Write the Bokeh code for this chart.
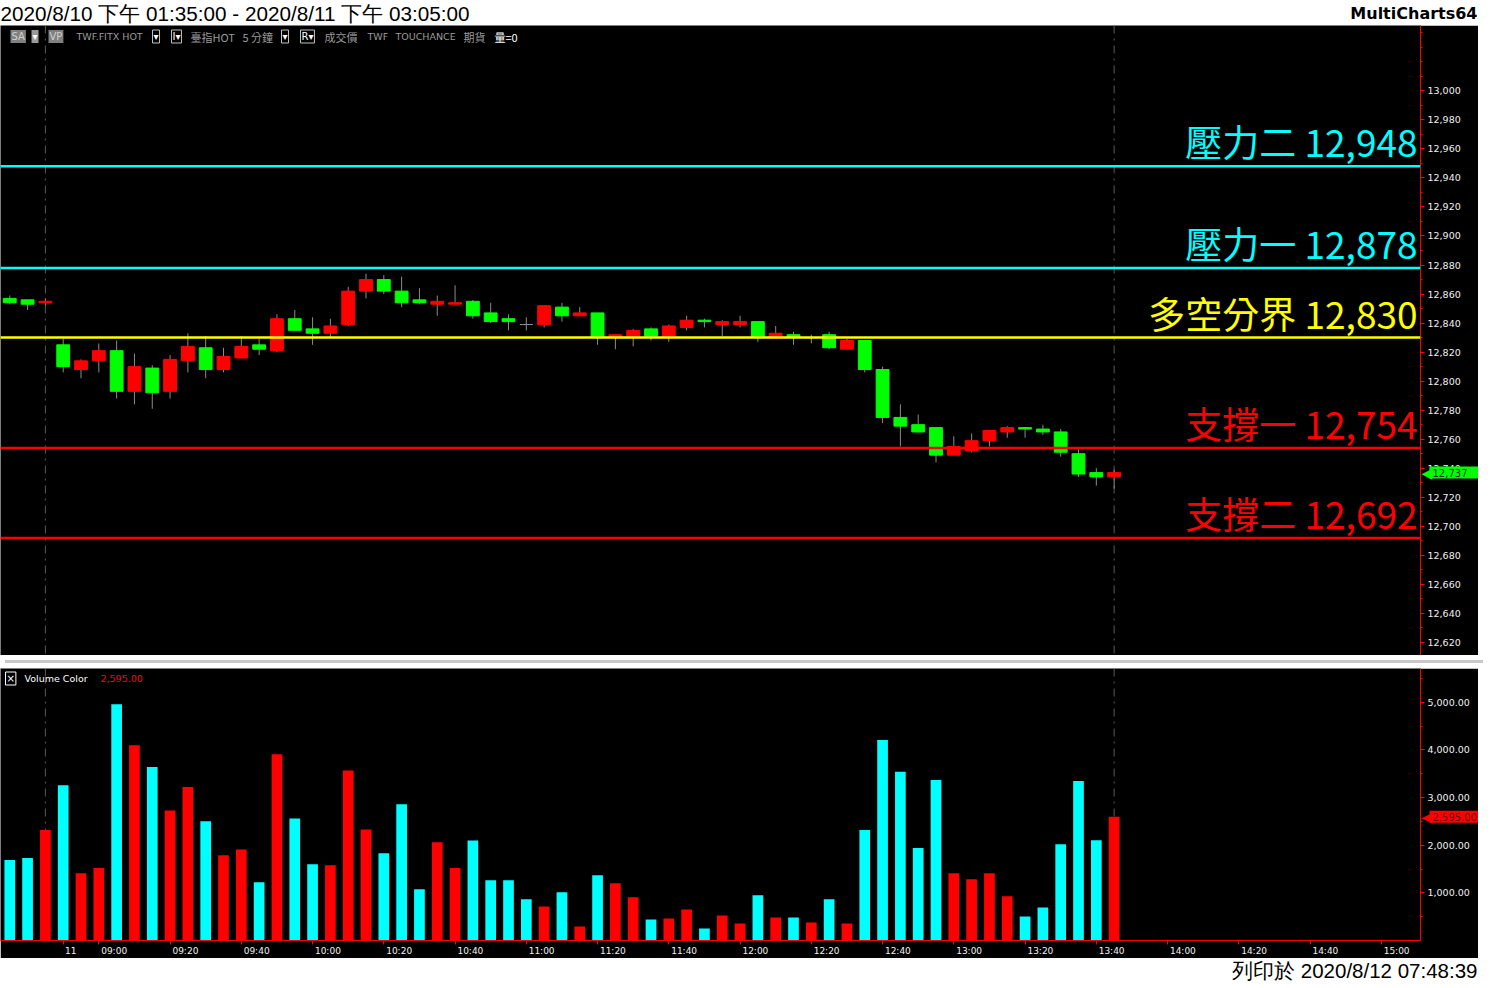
from bokeh.plotting import figure
from bokeh.layouts import column
from bokeh.models import (Range1d, LinearAxis, FixedTicker, NumeralTickFormatter,
                          CustomJSTickFormatter, Label, Span, ColumnDataSource, Div)
from bokeh.core.properties import value
from bokeh.embed import file_html
from bokeh.resources import INLINE

# ---------------- data ----------------
bar_times = ["04:50", "04:55", "05:00",
             "08:50", "08:55", "09:00", "09:05", "09:10", "09:15", "09:20", "09:25",
             "09:30", "09:35", "09:40", "09:45", "09:50", "09:55", "10:00", "10:05",
             "10:10", "10:15", "10:20", "10:25", "10:30", "10:35", "10:40", "10:45",
             "10:50", "10:55", "11:00", "11:05", "11:10", "11:15", "11:20", "11:25",
             "11:30", "11:35", "11:40", "11:45", "11:50", "11:55", "12:00", "12:05",
             "12:10", "12:15", "12:20", "12:25", "12:30", "12:35", "12:40", "12:45",
             "12:50", "12:55", "13:00", "13:05", "13:10", "13:15", "13:20", "13:25",
             "13:30", "13:35", "13:40", "13:45"]

opens = [12857, 12856, 12854, 12825, 12808, 12814, 12821, 12793, 12809, 12793,
         12814, 12823, 12808, 12816, 12825, 12821, 12843, 12836, 12833, 12839,
         12862, 12870, 12862, 12856, 12853, 12853, 12855, 12847, 12843, 12839,
         12839, 12851, 12845, 12847, 12830, 12831, 12836, 12831, 12837, 12842,
         12839, 12839, 12841, 12830, 12832, 12830, 12832, 12822, 12828, 12808,
         12775, 12770, 12768, 12749, 12752, 12759, 12765, 12768, 12767, 12765,
         12750, 12737, 12734]
highs = [12859, 12856, 12857, 12829, 12815, 12826, 12828, 12819, 12811, 12818,
         12833, 12831, 12823, 12831, 12829, 12846, 12849, 12844, 12843, 12865,
         12874, 12873, 12872, 12864, 12859, 12866, 12856, 12854, 12846, 12844,
         12852, 12854, 12851, 12847, 12832, 12836, 12837, 12839, 12845, 12843,
         12842, 12845, 12841, 12838, 12834, 12832, 12834, 12829, 12828, 12810,
         12784, 12777, 12768, 12762, 12764, 12766, 12769, 12768, 12770, 12767,
         12753, 12740, 12739]
lows = [12853, 12849, 12852, 12806, 12802, 12806, 12788, 12784, 12781, 12788,
        12806, 12802, 12806, 12816, 12818, 12820, 12835, 12825, 12830, 12838,
        12857, 12860, 12851, 12853, 12845, 12853, 12843, 12840, 12835, 12835,
        12837, 12841, 12845, 12825, 12822, 12824, 12828, 12827, 12835, 12837,
        12831, 12837, 12827, 12830, 12825, 12826, 12822, 12822, 12806, 12771,
        12755, 12765, 12744, 12749, 12751, 12755, 12761, 12761, 12763, 12748,
        12734, 12728, 12726]
closes = [12854, 12853, 12855, 12810, 12814, 12821, 12793, 12810, 12792, 12815,
          12824, 12808, 12817, 12824, 12822, 12843, 12835, 12833, 12838, 12862,
          12870, 12862, 12854, 12854, 12855, 12854, 12845, 12841, 12841, 12839,
          12852, 12845, 12847, 12830, 12832, 12835, 12831, 12838, 12842, 12841,
          12841, 12841, 12830, 12833, 12830, 12830, 12823, 12828, 12808, 12775,
          12769, 12765, 12749, 12755, 12759, 12766, 12768, 12767, 12765, 12751,
          12736, 12734, 12737]
volumes = [1690, 1730, 2320, 3260, 1410, 1520, 4960, 4100, 3640, 2730,
           3220, 2500, 1790, 1910, 1220, 3910, 2560, 1600, 1580, 3570,
           2330, 1830, 2860, 1075, 2060, 1520, 2100, 1265, 1265, 865,
           715, 1010, 296, 1370, 1200, 905, 442, 463, 653, 253,
           527, 358, 947, 484, 484, 380, 865, 358, 2320, 4210,
           3540, 1940, 3370, 1410, 1285, 1410, 928, 506, 695, 2020,
           3345, 2105, 2595]
# R = red (up) volume bar, C = cyan (down) volume bar
vol_side = list("CCRCRRCRCR" "RCRRCRCCRR" "RCCCRRCCCC" "RCRCRRCRRC"
                "RRCRCRCRCC" "CCCRRRRCCCCCR")

tick_index = [3, 5, 9, 13, 17, 21, 25, 29, 33, 37, 41, 45, 49, 53, 57, 61, 65, 69, 73, 77]
tick_labels = ["11", "09:00", "09:20", "09:40", "10:00", "10:20", "10:40", "11:00",
               "11:20", "11:40", "12:00", "12:20", "12:40", "13:00", "13:20", "13:40",
               "14:00", "14:20", "14:40", "15:00"]

level_names = ["壓力二", "壓力一", "多空分界", "支撐一", "支撐二"]
level_values = [12948, 12878, 12830, 12754, 12692]

price_ticks = list(range(12620, 13001, 20))
price_minor = list(range(12610, 13041, 10))
vol_ticks = [1000, 2000, 3000, 4000, 5000]
vol_minor = [500, 1500, 2500, 3500, 4500, 5500]

title_text = "2020/8/10 下午 01:35:00 - 2020/8/11 下午 03:05:00"
brand_text = "MultiCharts64"
print_text = "列印於 2020/8/12 07:48:39"

# ---------------- styling / layout ----------------
W = 1478
RIGHT = 58
HDR_H, PRICE_H, VOL_H, FTR_H = 25, 630, 290, 23
level_colors = ["#00ffff", "#00ffff", "#ffff00", "#ff0000", "#ff0000"]
UP, DN, DOJI = "#ff0000", "#00ff00", "#8c8c8c"
AXIS_RED = "#ff0000"
LBL = "#f0f0f0"
X_START, X_END = -0.52, 79.2
P_LO, P_HI = 12611, 13045
V_TOP = 5708
TAG_PAD = dict(left=3, right=14, top=2, bottom=2)

xr = Range1d(X_START, X_END)
idx = list(range(len(bar_times)))
session_end = bar_times.index("05:00")
last_bar = len(bar_times) - 1

body_col = [UP if c > o else (DN if c < o else DOJI) for o, c in zip(opens, closes)]
src = ColumnDataSource(dict(
    x=idx, h=highs, l=lows,
    top=[max(o, c) for o, c in zip(opens, closes)],
    bot=[min(o, c) for o, c in zip(opens, closes)],
    col=body_col))
vsrc = ColumnDataSource(dict(x=idx, v=volumes,
                             col=["#ff0000" if s == "R" else "#00ffff" for s in vol_side]))


def style_yaxis(ax):
    ax.axis_line_color = AXIS_RED
    ax.major_tick_line_color = AXIS_RED
    ax.minor_tick_line_color = AXIS_RED
    ax.major_tick_out = 4
    ax.major_tick_in = 0
    ax.minor_tick_out = 2
    ax.minor_tick_in = 0
    ax.major_label_text_color = LBL
    ax.major_label_text_font = "DejaVu Sans"
    ax.major_label_text_font_size = "9.5px"
    ax.major_label_standoff = 3


def white_strip(h):
    return figure(width=W, height=h, x_range=Range1d(0, 1), y_range=Range1d(0, 1),
                  x_axis_type=None, y_axis_type=None, toolbar_location=None,
                  output_backend="svg", background_fill_color="white",
                  border_fill_color="white", outline_line_color=None,
                  min_border_left=0, min_border_right=RIGHT, min_border_top=0,
                  min_border_bottom=0)


# ---------------- header ----------------
hdr = white_strip(HDR_H)
hdr.text(x=[0], y=[0.5], text=[title_text], text_font=value("Liberation Sans"),
         text_font_size="20.7px", text_baseline="middle", text_color="black",
         level="overlay")
hdr.text(x=[1], y=[0.5], text=[brand_text], x_offset=RIGHT - 1,
         text_font=value("DejaVu Sans"), text_font_style="bold", text_font_size="16px",
         text_baseline="middle", text_align="right", text_color="black", level="overlay")

# ---------------- price panel ----------------
p = figure(width=W, height=PRICE_H, x_range=xr, y_range=Range1d(P_LO, P_HI),
           y_axis_location="right", x_axis_location=None, toolbar_location=None,
           output_backend="svg", background_fill_color="black",
           border_fill_color="black", outline_line_color=None,
           min_border_left=0, min_border_right=RIGHT, min_border_top=0, min_border_bottom=0)
p.grid.visible = False
ya = p.yaxis[0]
ya.ticker = FixedTicker(ticks=price_ticks, minor_ticks=price_minor)
ya.formatter = NumeralTickFormatter(format="0,0")
style_yaxis(ya)

for loc in (session_end, last_bar):
    p.add_layout(Span(location=loc, dimension="height", line_color="#5a5a5a",
                      line_width=1, line_dash="8 5 2 5", level="underlay"))

p.segment(x0="x", y0="l", x1="x", y1="h", source=src, line_color="#8c8c8c", line_width=1)
p.vbar(x="x", top="top", bottom="bot", width=0.72, source=src,
       fill_color="col", line_color="col", line_width=1)

for lv, c in zip(level_values, level_colors):
    p.add_layout(Span(location=lv, dimension="width", line_color=c, line_width=2.5))

p.text(x=[X_END] * len(level_values), y=level_values,
       text=[f"{n} {v:,}" for n, v in zip(level_names, level_values)],
       text_color=level_colors, text_font=value("Noto Sans CJK TC"),
       text_font_size="37px", text_align="right", text_baseline="middle",
       x_offset=-3, y_offset=-25)

# info line
GREY = "#9a9a9a"
info = [
    (10, "SA", "#d0d0d0", "DejaVu Sans", "10px", "#808080", None),
    (31, "▾", "#ffffff", "DejaVu Sans", "10px", "#9a9a9a", None),
    (48, "VP", "#d0d0d0", "DejaVu Sans", "10px", "#808080", None),
    (75, "TWF.FITX HOT", GREY, "DejaVu Sans", "9.5px", None, None),
    (152, "▾", "#ffffff", "DejaVu Sans", "10px", None, "#c0c0c0"),
    (171, "I▾", "#ffffff", "DejaVu Sans", "10px", None, "#c0c0c0"),
    (189, "臺指HOT", GREY, "Noto Sans CJK TC", "11px", None, None),
    (241, "5 分鐘", GREY, "Noto Sans CJK TC", "11px", None, None),
    (281, "▾", "#ffffff", "DejaVu Sans", "10px", None, "#c0c0c0"),
    (300, "R▾", "#ffffff", "DejaVu Sans", "10px", None, "#c0c0c0"),
    (323, "成交價", GREY, "Noto Sans CJK TC", "11px", None, None),
    (366, "TWF", GREY, "DejaVu Sans", "9.5px", None, None),
    (394, "TOUCHANCE", GREY, "DejaVu Sans", "9.5px", None, None),
    (462, "期貨", GREY, "Noto Sans CJK TC", "11px", None, None),
    (493, "量=0", "#ffffff", "Noto Sans CJK TC", "11px", None, None),
]
for x, t, col, font, size, bg, border in info:
    p.add_layout(Label(x=x, y=P_HI, x_units="screen", y_units="data", y_offset=-11,
                       text=t, text_color=col, text_font=font, text_font_size=size,
                       text_baseline="middle", background_fill_color=bg,
                       border_line_color=border, padding=1))

# last price tag (drawn over the axis strip)
p.text(x=[X_END], y=[closes[-1]], text=["◀"], x_offset=1, text_color="#00ff00",
       text_font=value("DejaVu Sans"), text_font_size="14px", text_baseline="middle",
       level="overlay")
p.text(x=[X_END], y=[closes[-1]], text=[f"{closes[-1]:,}"], x_offset=9,
       text_color="#0a300a", text_font=value("DejaVu Sans"), text_font_size="10px",
       text_baseline="middle", background_fill_color="#00ff00", padding=TAG_PAD,
       level="overlay")

# ---------------- separator ----------------
sep = Div(text="", width=W, height=3, styles={"background-color": "#c8c8c8"})

# ---------------- volume panel ----------------
v = figure(width=W, height=VOL_H, x_range=xr, y_range=Range1d(0, V_TOP),
           y_axis_location="right", x_axis_location=None, toolbar_location=None,
           output_backend="svg", background_fill_color="black",
           border_fill_color="black", outline_line_color=None,
           min_border_left=0, min_border_right=RIGHT, min_border_top=0, min_border_bottom=0)
v.grid.visible = False
vy = v.yaxis[0]
vy.ticker = FixedTicker(ticks=vol_ticks, minor_ticks=vol_minor)
vy.formatter = NumeralTickFormatter(format="0,0.00")
style_yaxis(vy)

for loc in (session_end, last_bar):
    v.add_layout(Span(location=loc, dimension="height", line_color="#5a5a5a",
                      line_width=1, line_dash="8 5 2 5", level="underlay"))

v.vbar(x="x", top="v", bottom=0, width=0.6, source=vsrc, fill_color="col", line_color=None)

ax_tick = LinearAxis(ticker=FixedTicker(ticks=tick_index),
                     formatter=CustomJSTickFormatter(code="return '';"),
                     axis_line_color=AXIS_RED, major_tick_line_color=AXIS_RED,
                     minor_tick_line_color=None, major_tick_out=4, major_tick_in=0,
                     major_label_text_font_size="0px", major_label_standoff=0)
lab_pos = [t + (0.42 if len(s) <= 2 else 0.86) for t, s in zip(tick_index, tick_labels)]
ax_lab = LinearAxis(ticker=FixedTicker(ticks=lab_pos),
                    formatter=CustomJSTickFormatter(
                        args=dict(pos=lab_pos, labels=tick_labels),
                        code="const i = pos.findIndex(q => Math.abs(q - tick) < 1e-6); return i >= 0 ? labels[i] : '';"),
                    axis_line_color=None, major_tick_line_color=None,
                    minor_tick_line_color=None, major_tick_out=0, major_tick_in=0,
                    major_label_standoff=1, major_label_text_color=LBL,
                    major_label_text_font="DejaVu Sans", major_label_text_font_size="9px")
v.add_layout(ax_tick, "below")
v.add_layout(ax_lab, "below")

v.add_layout(Label(x=5, y=V_TOP, x_units="screen", y_offset=-10, text="×",
                   text_color="#ffffff", text_font="DejaVu Sans", text_font_size="10px",
                   text_baseline="middle", border_line_color="#ffffff", padding=1))
v.add_layout(Label(x=24, y=V_TOP, x_units="screen", y_offset=-10, text="Volume Color",
                   text_color="#ffffff", text_font="DejaVu Sans", text_font_size="9.5px",
                   text_baseline="middle"))
v.add_layout(Label(x=100, y=V_TOP, x_units="screen", y_offset=-10,
                   text=f"{volumes[-1]:,.2f}", text_color="#ff0000",
                   text_font="DejaVu Sans", text_font_size="9.5px", text_baseline="middle"))

v.text(x=[X_END], y=[volumes[-1]], text=["◀"], x_offset=1, text_color="#ff0000",
       text_font=value("DejaVu Sans"), text_font_size="14px", text_baseline="middle",
       level="overlay")
v.text(x=[X_END], y=[volumes[-1]], text=[f"{volumes[-1]:,.2f}"], x_offset=9,
       text_color="#6a0000", text_font=value("DejaVu Sans"), text_font_size="10px",
       text_baseline="middle", background_fill_color="#ff0000",
       padding=dict(left=3, right=4, top=2, bottom=2), level="overlay")

# ---------------- footer ----------------
ftr = white_strip(FTR_H)
ftr.text(x=[1], y=[0.5], text=[print_text], x_offset=RIGHT - 1,
         text_font=value("Liberation Sans"), text_font_size="20.5px",
         text_baseline="middle", text_align="right", text_color="black", level="overlay")

layout = column(hdr, p, sep, v, ftr, spacing=0)
open("out.html", "w").write(file_html(layout, INLINE, title="MultiCharts64"))
